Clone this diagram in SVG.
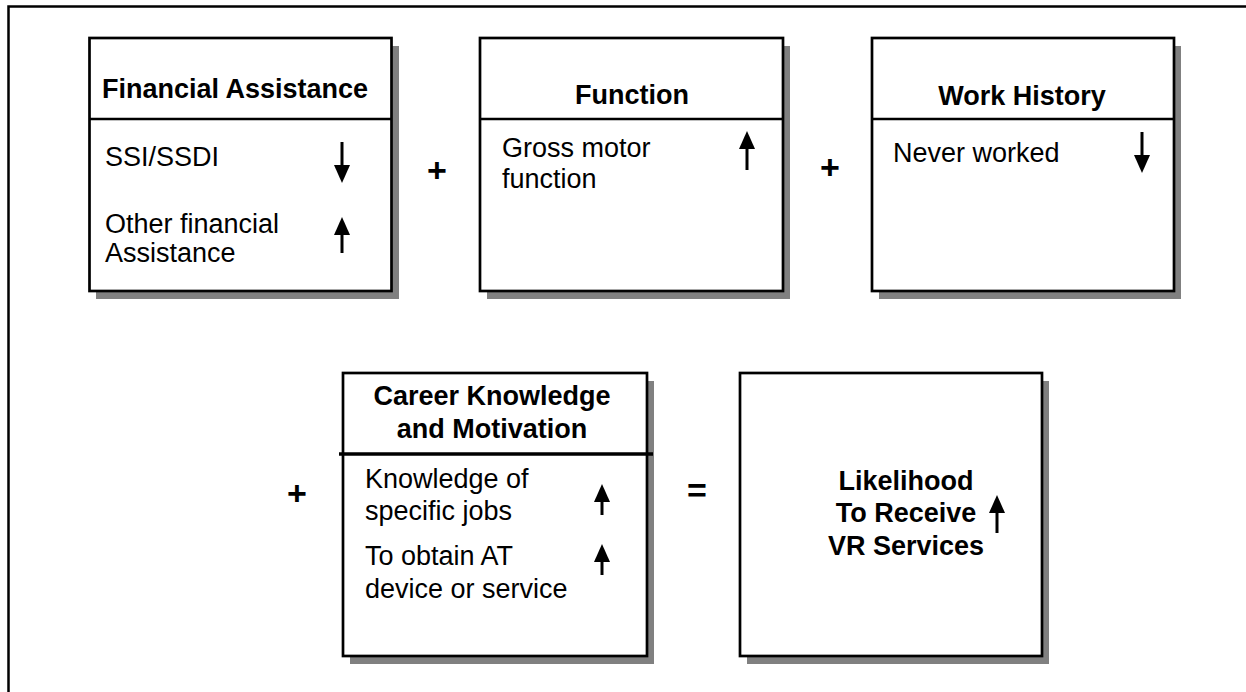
<svg xmlns="http://www.w3.org/2000/svg" width="1246" height="692" viewBox="0 0 1246 692">
  <style>
    .frame { fill: none; stroke: #000; stroke-width: 2.5; }
    .shadow { fill: #808080; }
    .box { fill: #fff; stroke: #000; stroke-width: 2.7; }
    .rule { stroke: #000; stroke-width: 2.5; }
    .rule-heavy { stroke: #000; stroke-width: 3.5; }
    .head { font-family: "Liberation Sans", Arial, sans-serif; font-weight: bold; font-size: 27px; fill: #000; text-anchor: middle; }
    .body { font-family: "Liberation Sans", Arial, sans-serif; font-size: 27px; fill: #000; }
    .op { font-family: "Liberation Sans", Arial, sans-serif; font-weight: bold; font-size: 34px; fill: #000; text-anchor: middle; }
    .ind { stroke: #000; stroke-width: 3; marker-end: url(#tip); }
  </style>
  <defs>
    <marker id="tip" viewBox="0 0 18 16" markerUnits="userSpaceOnUse" markerWidth="18" markerHeight="16" refX="7" refY="8" orient="auto">
      <path d="M0,0 L18,8 L0,16 z" fill="#000"/>
    </marker>
  </defs>

  <rect width="1246" height="692" fill="#fff"/>

  <!-- page frame, running off the right and bottom edges -->
  <path class="frame" d="M8.5,700 V6.5 H1260"/>

  <g id="financial-assistance">
    <rect class="shadow" x="96" y="46" width="303" height="253"/>
    <rect class="box" x="89.5" y="38" width="302" height="253"/>
    <line class="rule" x1="89.5" y1="119" x2="391.5" y2="119"/>
    <text class="head" x="235" y="98">Financial Assistance</text>
    <text class="body" x="105" y="166">SSI/SSDI</text>
    <text class="body" x="105" y="233">Other financial</text>
    <text class="body" x="105" y="262">Assistance</text>
    <line class="ind" x1="342" y1="142" x2="342" y2="172"/>
    <line class="ind" x1="342" y1="253" x2="342" y2="228"/>
  </g>

  <g id="function">
    <rect class="shadow" x="487" y="46" width="303" height="253"/>
    <rect class="box" x="480" y="38" width="303" height="253"/>
    <line class="rule" x1="480" y1="119" x2="783" y2="119"/>
    <text class="head" x="632" y="104">Function</text>
    <text class="body" x="502" y="157">Gross motor</text>
    <text class="body" x="502" y="188">function</text>
    <line class="ind" x1="747" y1="170" x2="747" y2="142"/>
  </g>

  <g id="work-history">
    <rect class="shadow" x="879" y="46" width="302" height="253"/>
    <rect class="box" x="872" y="38" width="302" height="253"/>
    <line class="rule" x1="872" y1="119" x2="1174" y2="119"/>
    <text class="head" x="1022" y="105">Work History</text>
    <text class="body" x="893" y="162">Never worked</text>
    <line class="ind" x1="1142" y1="132" x2="1142" y2="162"/>
  </g>

  <g id="career-knowledge">
    <rect class="shadow" x="350" y="381" width="304" height="283"/>
    <rect class="box" x="343" y="373" width="304" height="283"/>
    <line class="rule-heavy" x1="339" y1="454" x2="653" y2="454"/>
    <text class="head" x="492" y="405">Career Knowledge</text>
    <text class="head" x="492" y="438">and Motivation</text>
    <text class="body" x="365" y="488">Knowledge of</text>
    <text class="body" x="365" y="520">specific jobs</text>
    <text class="body" x="365" y="565">To obtain AT</text>
    <text class="body" x="365" y="598">device or service</text>
    <line class="ind" x1="602" y1="515" x2="602" y2="495"/>
    <line class="ind" x1="602" y1="575" x2="602" y2="555"/>
  </g>

  <g id="likelihood">
    <rect class="shadow" x="747" y="381" width="302" height="283"/>
    <rect class="box" x="740" y="373" width="302" height="283"/>
    <text class="head" x="906" y="490">Likelihood</text>
    <text class="head" x="906" y="522">To Receive</text>
    <text class="head" x="906" y="555">VR Services</text>
    <line class="ind" x1="997" y1="533" x2="997" y2="506"/>
  </g>

  <g id="operators">
    <text class="op" x="437" y="182">+</text>
    <text class="op" x="830" y="179">+</text>
    <text class="op" x="297" y="505">+</text>
    <text class="op" x="697" y="502">=</text>
  </g>
</svg>
